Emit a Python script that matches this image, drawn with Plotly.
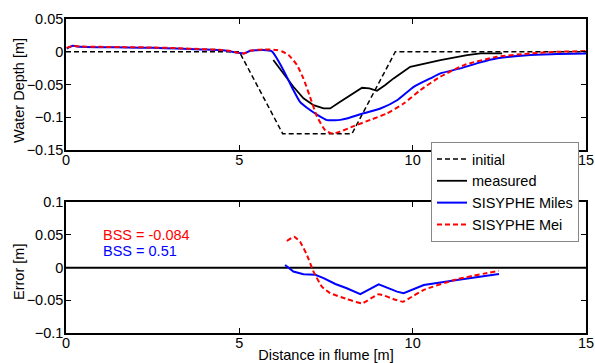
import plotly.graph_objects as go

# ---------------- data ----------------
init_x = [0, 5.0, 6.25, 8.25, 9.5, 15]
init_y = [0, 0, -0.125, -0.125, 0, 0]

meas_x = [5.98, 6.27, 6.56, 6.85, 7.14, 7.43, 7.62, 7.91, 8.2, 8.54, 8.75, 8.97, 9.2, 9.45, 9.93, 10.42, 10.8, 11.57, 11.96, 12.58]
meas_y = [-0.0127, -0.033, -0.0535, -0.071, -0.0815, -0.0866, -0.0866, -0.0765, -0.067, -0.055, -0.056, -0.0596, -0.051, -0.0407, -0.023, -0.0168, -0.0127, -0.005, -0.0025, -0.0025]

miles_x = [0.02, 0.2, 0.4, 1.0, 1.75, 2.5, 3.2, 3.9, 4.44, 4.75, 5.0, 5.15, 5.31, 5.69, 5.94, 6.08, 6.32, 6.56, 6.75, 7.04, 7.3, 7.53, 7.75, 7.91, 8.1, 8.58, 9.07, 9.55, 10.03, 10.51, 10.8, 11.38, 11.9, 12.44, 13.4, 14.2, 15.0]
miles_y = [0.005, 0.009, 0.0075, 0.007, 0.0065, 0.006, 0.005, 0.0035, 0.0025, 0.0005, -0.002, -0.0025, 0.0015, 0.0026, 0.0005, -0.010, -0.033, -0.0586, -0.0765, -0.089, -0.098, -0.1044, -0.1045, -0.104, -0.102, -0.094, -0.0866, -0.074, -0.0535, -0.0407, -0.033, -0.0254, -0.017, -0.010, -0.005, -0.0035, -0.0025]

mei_x = [0.02, 0.2, 0.4, 1.0, 1.75, 2.5, 3.2, 3.9, 4.44, 4.75, 5.0, 5.15, 5.31, 5.69, 6.08, 6.25, 6.42, 6.66, 6.85, 7.04, 7.24, 7.48, 7.7, 7.91, 8.3, 8.78, 9.26, 9.74, 10.22, 10.8, 11.5, 12.44, 13.4, 14.2, 15.0]
mei_y = [0.006, 0.009, 0.008, 0.0075, 0.007, 0.0065, 0.0055, 0.004, 0.003, 0.001, -0.002, -0.0025, 0.0015, 0.0036, 0.0026, 0.0, -0.005, -0.020, -0.041, -0.069, -0.099, -0.12, -0.125, -0.122, -0.1136, -0.104, -0.094, -0.079, -0.0586, -0.038, -0.020, -0.0076, -0.0025, 0.0, 0.001]

err_mei_x = [6.37, 6.58, 6.75, 6.95, 7.14, 7.38, 7.62, 8.1, 8.54, 9.02, 9.5, 9.72, 9.9, 10.32, 11.28, 12.49]
err_mei_y = [0.0408, 0.0474, 0.0398, 0.0194, -0.0061, -0.029, -0.039, -0.048, -0.0545, -0.0407, -0.049, -0.052, -0.047, -0.034, -0.0178, -0.0046]

err_miles_x = [6.32, 6.56, 6.85, 7.19, 7.43, 7.77, 8.1, 8.49, 9.02, 9.36, 9.55, 9.74, 10.32, 11.28, 12.49]
err_miles_y = [0.004, -0.006, -0.010, -0.011, -0.016, -0.025, -0.0315, -0.0407, -0.0254, -0.033, -0.0367, -0.039, -0.0265, -0.0188, -0.0096]

zero_x = [0, 15]
zero_y = [0, 0]

bss_labels = ["BSS = -0.084", "BSS = 0.51"]

top_yticks = [-0.15, -0.1, -0.05, 0, 0.05]
bot_yticks = [-0.1, -0.05, 0, 0.05, 0.1]
xticks = [0, 5, 10, 15]

FONT = "Liberation Sans"
FS = 14.5
DASH = "5px,3px"

fig = go.Figure()
fig.add_trace(go.Scatter(x=init_x, y=init_y, mode="lines", name="initial",
                         line=dict(color="black", width=1.5, dash=DASH), xaxis="x", yaxis="y"))
fig.add_trace(go.Scatter(x=meas_x, y=meas_y, mode="lines", name="measured",
                         line=dict(color="black", width=1.8), xaxis="x", yaxis="y"))
fig.add_trace(go.Scatter(x=miles_x, y=miles_y, mode="lines", name="SISYPHE Miles",
                         line=dict(color="#0000ff", width=2, shape="spline", smoothing=0.5), xaxis="x", yaxis="y"))
fig.add_trace(go.Scatter(x=mei_x, y=mei_y, mode="lines", name="SISYPHE Mei",
                         line=dict(color="#ff0000", width=2, dash=DASH, shape="spline", smoothing=0.5), xaxis="x", yaxis="y"))

fig.add_trace(go.Scatter(x=zero_x, y=zero_y, mode="lines", showlegend=False,
                         line=dict(color="black", width=2), xaxis="x2", yaxis="y2"))
fig.add_trace(go.Scatter(x=err_miles_x, y=err_miles_y, mode="lines", showlegend=False,
                         line=dict(color="#0000ff", width=2), xaxis="x2", yaxis="y2"))
fig.add_trace(go.Scatter(x=err_mei_x, y=err_mei_y, mode="lines", showlegend=False,
                         line=dict(color="#ff0000", width=2, dash=DASH, shape="spline", smoothing=0.4),
                         xaxis="x2", yaxis="y2"))

axis_common = dict(showline=True, linecolor="black", linewidth=1.5, mirror="allticks",
                   ticks="inside", ticklen=5, tickwidth=1.2, tickcolor="black",
                   showgrid=False, zeroline=False, automargin=False,
                   tickfont=dict(family=FONT, size=FS, color="black"))

fig.update_layout(
    width=595, height=363,
    margin=dict(l=66, r=9, t=19, b=30, autoexpand=False),
    paper_bgcolor="white", plot_bgcolor="white",
    font=dict(family=FONT, size=FS, color="black"),
    xaxis=dict(domain=[0, 1], range=[0, 15], tickvals=xticks, anchor="y",
               ticklabelstandoff=-4, **axis_common),
    yaxis=dict(domain=[0.5828, 1], range=[-0.15, 0.05], tickvals=top_yticks, anchor="x",
               ticklabelstandoff=-2, **axis_common),
    xaxis2=dict(domain=[0, 1], range=[0, 15], tickvals=xticks, anchor="y2",
                ticklabelstandoff=-4,
                title=dict(text="Distance in flume [m]", standoff=7, font=dict(family=FONT, size=FS)),
                **axis_common),
    yaxis2=dict(domain=[0, 0.4162], range=[-0.1, 0.1], tickvals=bot_yticks, anchor="x2",
                ticklabelstandoff=-2, **axis_common),
    legend=dict(x=579 / 595, y=1 - 142 / 363, xref="container", yref="container",
                xanchor="right", yanchor="top",
                bgcolor="white", bordercolor="#888888", borderwidth=1,
                itemwidth=30, tracegroupgap=0,
                font=dict(family=FONT, size=FS, color="black")),
    annotations=[
        dict(x=1.0, y=0.05, xref="x2", yref="y2", text=bss_labels[0], showarrow=False,
             xanchor="left", yanchor="middle", font=dict(family=FONT, size=FS, color="#ff0000")),
        dict(x=1.0, y=0.0255, xref="x2", yref="y2", text=bss_labels[1], showarrow=False,
             xanchor="left", yanchor="middle", font=dict(family=FONT, size=FS, color="#0000ff")),
        dict(x=-0.0904, y=0.7739, xref="paper", yref="paper", text="Water Depth [m]",
             textangle=-90, showarrow=False, xanchor="center", yanchor="middle",
             font=dict(family=FONT, size=FS, color="black")),
        dict(x=-0.0904, y=0.1943, xref="paper", yref="paper", text="Error [m]",
             textangle=-90, showarrow=False, xanchor="center", yanchor="middle",
             font=dict(family=FONT, size=FS, color="black")),
    ],
)

fig.write_html("out.html", config={"displayModeBar": False},
               post_script="document.body.style.margin='0px';document.body.style.overflow='hidden';")
